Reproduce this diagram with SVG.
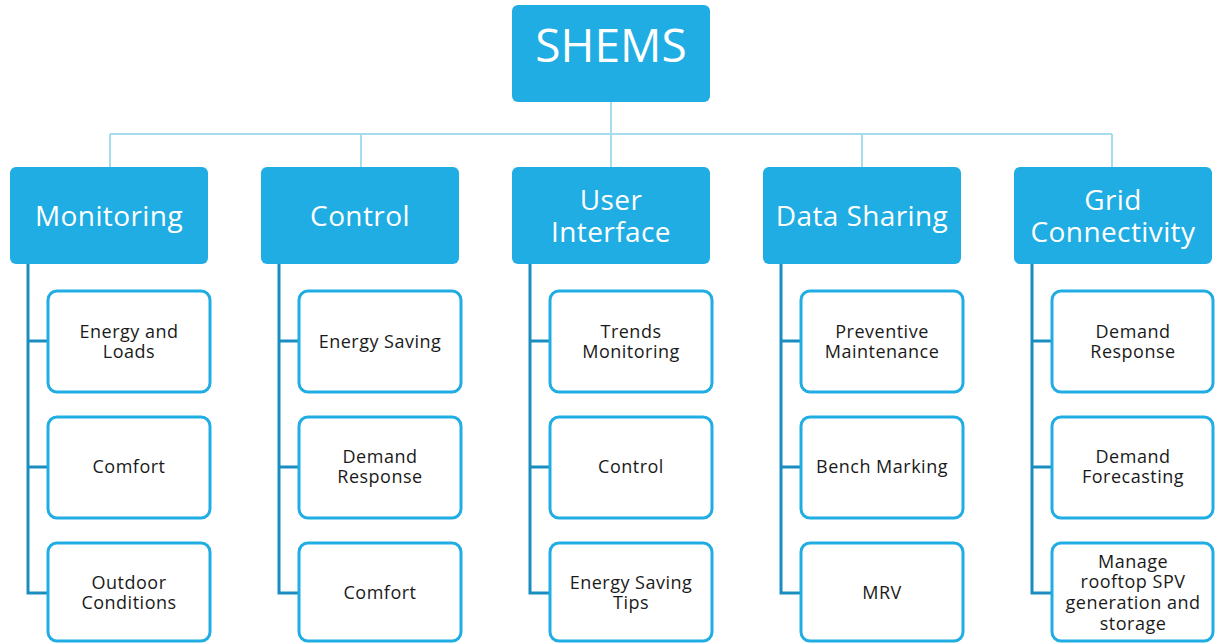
<svg xmlns="http://www.w3.org/2000/svg" width="1215" height="643" viewBox="0 0 1215 643">
<style>
.hdr{fill:#1fade3;}
.ht{fill:#fff;font-family:"Open Sans","DejaVu Sans",sans-serif;font-size:28px;text-anchor:middle;letter-spacing:0.4px;}
.st{fill:#fff;font-family:"Open Sans","DejaVu Sans",sans-serif;font-size:46px;text-anchor:middle;}
.box{fill:#fff;stroke:#1fade3;stroke-width:3;}
.ct{fill:#1a1a1a;font-family:"Open Sans","DejaVu Sans",sans-serif;font-size:18px;text-anchor:middle;letter-spacing:0.5px;}
.lc{stroke:#a6dcee;stroke-width:2;fill:none;}
.tr{stroke:#1a8dc0;stroke-width:3;fill:none;}
</style>
<g id="connectors">
<path class="lc" d="M611 102V134M110 134H1112M110 134V167M361 134V167M611 134V167M862 134V167M1112 134V167"/>
<path class="tr" d="M28 264V593H48M28 341H48M28 467H48"/>
<path class="tr" d="M279 264V593H299M279 341H299M279 467H299"/>
<path class="tr" d="M530 264V593H550M530 341H550M530 467H550"/>
<path class="tr" d="M781 264V593H801M781 341H801M781 467H801"/>
<path class="tr" d="M1032 264V593H1052M1032 341H1052M1032 467H1052"/>
</g>
<g id="shems"><rect class="hdr" x="512" y="5" width="198" height="97" rx="6"/><text class="st" x="611" y="62">SHEMS</text></g>
<g id="monitoring"><rect class="hdr" x="10" y="167" width="198" height="97" rx="6"/><text class="ht" x="109" y="226">Monitoring</text></g>
<g id="control"><rect class="hdr" x="261" y="167" width="198" height="97" rx="6"/><text class="ht" x="360" y="226">Control</text></g>
<g id="user-interface"><rect class="hdr" x="512" y="167" width="198" height="97" rx="6"/><text class="ht" x="611" y="210">User</text><text class="ht" x="611" y="242">Interface</text></g>
<g id="data-sharing"><rect class="hdr" x="763" y="167" width="198" height="97" rx="6"/><text class="ht" x="862" y="226">Data Sharing</text></g>
<g id="grid-connectivity"><rect class="hdr" x="1014" y="167" width="198" height="97" rx="6"/><text class="ht" x="1113" y="210">Grid</text><text class="ht" x="1113" y="242">Connectivity</text></g>

<g id="m1"><rect class="box" x="48" y="291" width="162" height="101" rx="9"/><text class="ct" x="129" y="338">Energy and</text><text class="ct" x="129" y="358">Loads</text></g>
<g id="m2"><rect class="box" x="48" y="417" width="162" height="101" rx="9"/><text class="ct" x="129" y="473">Comfort</text></g>
<g id="m3"><rect class="box" x="48" y="543" width="162" height="98" rx="9"/><text class="ct" x="129" y="589">Outdoor</text><text class="ct" x="129" y="609">Conditions</text></g>

<g id="c1"><rect class="box" x="299" y="291" width="162" height="101" rx="9"/><text class="ct" x="380" y="348">Energy Saving</text></g>
<g id="c2"><rect class="box" x="299" y="417" width="162" height="101" rx="9"/><text class="ct" x="380" y="463">Demand</text><text class="ct" x="380" y="483">Response</text></g>
<g id="c3"><rect class="box" x="299" y="543" width="162" height="98" rx="9"/><text class="ct" x="380" y="599">Comfort</text></g>

<g id="u1"><rect class="box" x="550" y="291" width="162" height="101" rx="9"/><text class="ct" x="631" y="338">Trends</text><text class="ct" x="631" y="358">Monitoring</text></g>
<g id="u2"><rect class="box" x="550" y="417" width="162" height="101" rx="9"/><text class="ct" x="631" y="473">Control</text></g>
<g id="u3"><rect class="box" x="550" y="543" width="162" height="98" rx="9"/><text class="ct" x="631" y="589">Energy Saving</text><text class="ct" x="631" y="609">Tips</text></g>

<g id="d1"><rect class="box" x="801" y="291" width="162" height="101" rx="9"/><text class="ct" x="882" y="338">Preventive</text><text class="ct" x="882" y="358">Maintenance</text></g>
<g id="d2"><rect class="box" x="801" y="417" width="162" height="101" rx="9"/><text class="ct" x="882" y="473">Bench Marking</text></g>
<g id="d3"><rect class="box" x="801" y="543" width="162" height="98" rx="9"/><text class="ct" x="882" y="599">MRV</text></g>

<g id="g1"><rect class="box" x="1052" y="291" width="161" height="101" rx="9"/><text class="ct" x="1133" y="338">Demand</text><text class="ct" x="1133" y="358">Response</text></g>
<g id="g2"><rect class="box" x="1052" y="417" width="161" height="101" rx="9"/><text class="ct" x="1133" y="463">Demand</text><text class="ct" x="1133" y="483">Forecasting</text></g>
<g id="g3"><rect class="box" x="1052" y="543" width="161" height="98" rx="9"/><text class="ct" x="1133" y="568">Manage</text><text class="ct" x="1133" y="588">rooftop SPV</text><text class="ct" x="1133" y="609">generation and</text><text class="ct" x="1133" y="630">storage</text></g>
</svg>
